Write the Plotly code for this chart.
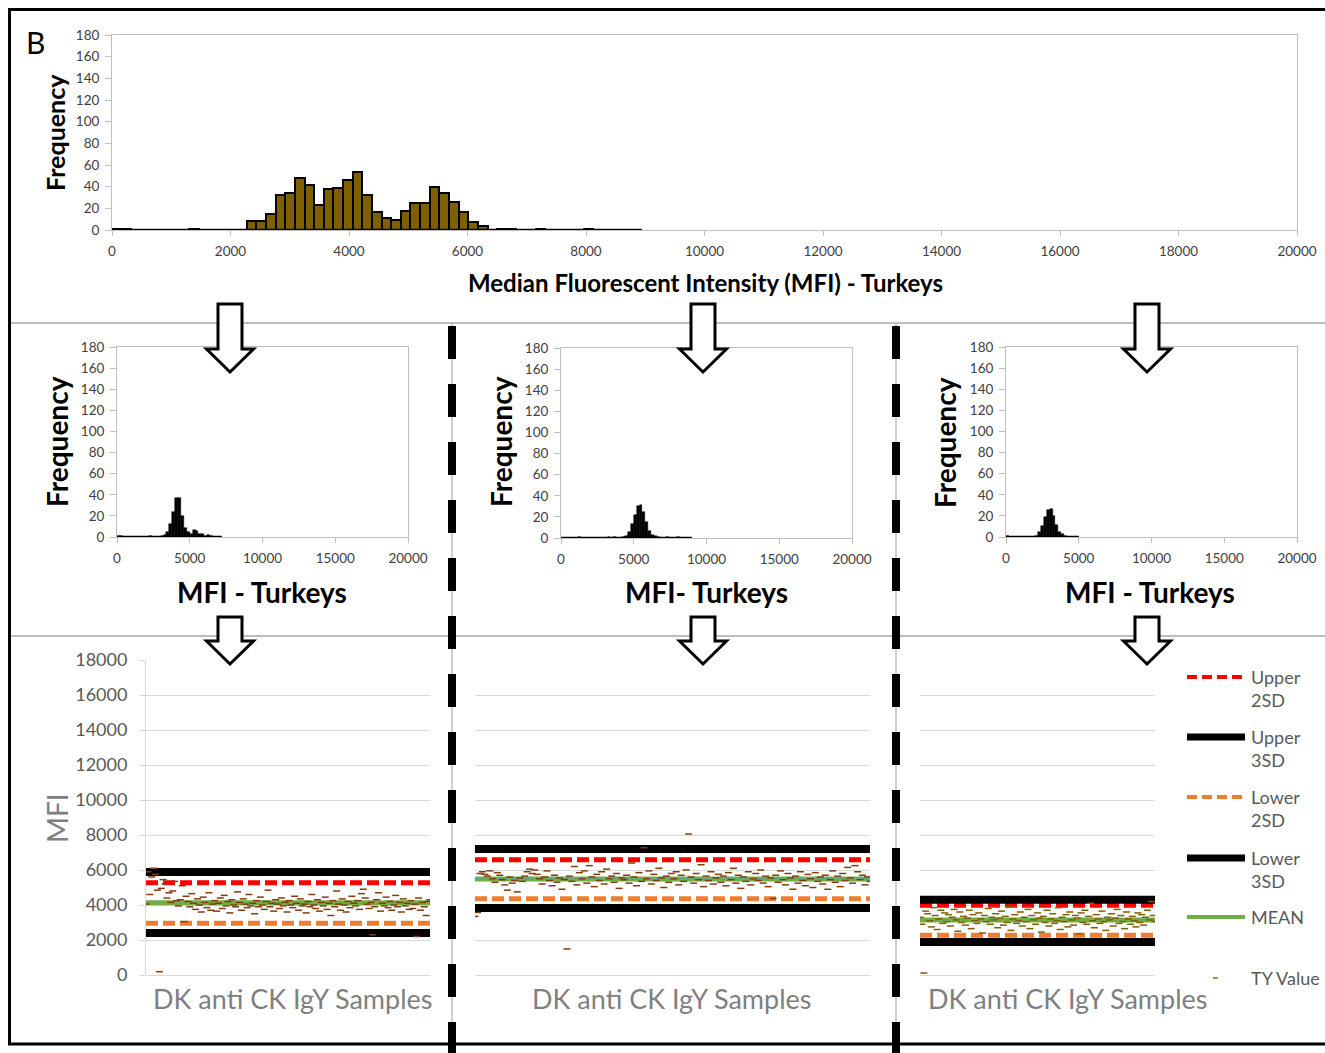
import plotly.graph_objects as go

W, H = 1325, 1053
FONT = "Lato"

# ---------------- data ----------------
top_bin_width = 162.5
top_counts = [1, 1, 0, 0, 0, 0, 0, 0, 1, 0, 0, 0, 0, 0,
              8, 8, 15, 32, 34, 48, 42, 23, 38, 39, 46, 54, 32, 17, 11, 9, 18, 25, 25, 40, 34, 26, 17, 7, 4,
              0, 1, 1, 0, 0, 1, 0, 0, 0, 0, 1, 0, 0, 0, 0, 0]

small_bin_width = 200
small1_counts = [1, 1, 0, 0, 0, 0, 0, 0, 0, 0, 0, 1, 0, 0, 0, 1, 2, 5, 12, 24, 37, 37, 20, 9, 5, 3, 7, 6, 3, 3,
                 1, 2, 1, 0, 0, 0]
small2_counts = [0, 0, 0, 0, 0, 0, 1, 0, 0, 0, 0, 0, 0, 0, 0, 0, 1, 0, 1, 0,
                 0, 1, 2, 6, 13, 22, 30, 31, 25, 15, 7, 3, 2, 1, 0, 0, 1, 0, 0, 0, 1, 0, 0, 0, 0]
small3_counts = [1, 0, 0, 0, 0, 0, 0, 0, 0, 0, 1, 5, 10, 19, 26, 27, 20, 11, 5, 3, 1, 0, 0, 0, 0]

ty1 = [4050, 5900, 4600, 5600, 6100, 5750, 4850, 190, 4950, 5450, 5200, 4400, 4700, 4150, 4800, 5350, 4250, 3950, 4300, 5100,
       3050, 4500, 4200, 3900, 4650, 4100, 3750, 4350, 4000, 3600, 4450, 4150, 3850, 4700, 3700, 4050, 4250, 3650, 4100, 4400,
       3800, 4550, 3950, 4200, 3550, 4300, 4000, 3900, 4750, 4150, 3700, 4350, 4050, 3850, 4600, 3950, 4100, 3500, 4250, 3900,
       4450, 4000, 3750, 4200, 4850, 3900, 4100, 3650, 4300, 4050, 3800, 4400, 3950, 4150, 3600, 4250, 4000, 3850, 4500, 4100,
       3700, 4350, 3950, 4050, 3550, 4200, 3900, 4600, 4000, 3800, 4300, 3650, 4150, 3950, 4450, 3750, 4100, 3400, 4250, 3900,
       4800, 4050, 3700, 4350, 4000, 3600, 4200, 3850, 4500, 4100, 3950, 4250, 3750, 4650, 4900, 4400, 4050, 3800, 4150, 2300,
       3900, 4300, 4700, 3650, 4100, 3950, 4450, 3850, 4200, 3700, 4000, 4550, 3900, 4150, 3600, 4350, 3950, 4100, 3750, 4250,
       3800, 4050, 2200, 4400, 3700, 4150, 3900, 3400, 4200, 4300]
ty2 = [3350, 3570, 5800, 5900, 5750, 5650, 5950, 5500, 5300, 5850, 5700, 5450, 5150, 4850, 5600, 5250, 5400, 4750, 5550, 5350,
       5650, 5900, 6050, 5800, 6000, 5750, 5500, 5200, 5600, 5950, 5400, 5100, 5700, 5300, 5550, 4900, 5450, 1490, 5650, 5350,
       6200, 5150, 5850, 5500, 5950, 5250, 6250, 5600, 5050, 5750, 5400, 5900, 5200, 6050, 5500, 5650, 5300, 5800, 4950, 5550,
       5450, 5700, 5250, 6400, 5600, 5100, 5850, 5350, 7270, 5500, 5950, 5200, 5750, 5400, 6100, 5550, 5000, 5650, 5300, 5800,
       5500, 5900, 5150, 5700, 5350, 6000, 8060, 5600, 5250, 5800, 5450, 6300, 5050, 5650, 5400, 5900, 5200, 5550, 5750, 5300,
       5650, 5100, 5850, 5450, 6100, 5250, 5700, 4950, 5600, 5350, 5900, 5150, 5500, 5800, 5400, 6000, 5250, 5650, 5050, 5550,
       4370, 5700, 5300, 5950, 5450, 5150, 5800, 5550, 4900, 5650, 5250, 5900, 5400, 5100, 5750, 5500, 5000, 5850, 5350, 5600,
       5200, 5700, 4900, 5450, 5950, 5300, 5650, 5050, 5800, 5400, 6150, 5550, 5250, 6250, 5900, 5450, 5700, 5150, 5600, 5350]
ty3 = [3300, 2900, 110, 3650, 3500, 3100, 2750, 3850, 3400, 2600, 3200, 3700, 2950, 3550, 3050, 3450, 2800, 3300, 3750, 3150,
       2500, 3600, 3000, 3350, 2850, 3250, 3700, 2650, 3450, 3100, 2950, 3550, 3200, 2400, 3400, 3050, 3800, 2900, 3300, 3150,
       3500, 2700, 3250, 3650, 2850, 3350, 3000, 3900, 2550, 3200, 3450, 2950, 3100, 3600, 2800, 3300, 3050, 3750, 2650, 3400,
       3150, 2900, 3550, 3250, 2450, 3350, 3000, 3700, 2800, 3200, 3500, 2950, 3100, 3850, 2600, 3300, 3050, 3450, 2750, 3600,
       3150, 2850, 3400, 3250, 2350, 3550, 3000, 3700, 2900, 3350, 4100, 3100, 2700, 3450, 3200, 2950, 3650, 3050, 2550, 3300,
       3150, 3500, 2800, 3250, 3750, 2950, 3400, 3050, 2650, 3600, 3200, 2900, 3350, 3100, 2750, 3550, 3000, 3450, 2850, 3300,
       3700, 3150, 4200, 3400, 3050]

# limits per panel: upper 2SD, upper 3SD, lower 2SD, lower 3SD, mean
upper2 = [5270, 6590, 3990]
upper3 = [5880, 7200, 4300]
lower2 = [2960, 4360, 2270]
lower3 = [2400, 3830, 1890]
means = [4130, 5490, 3140]

top_xticks = [0, 2000, 4000, 6000, 8000, 10000, 12000, 14000, 16000, 18000, 20000]
small_xticks = [0, 5000, 10000, 15000, 20000]
freq_ticks = [0, 20, 40, 60, 80, 100, 120, 140, 160, 180]
mfi_ticks = [0, 2000, 4000, 6000, 8000, 10000, 12000, 14000, 16000, 18000]

legend_labels = ["Upper<br>2SD", "Upper<br>3SD", "Lower<br>2SD", "Lower<br>3SD", "MEAN", "TY Value"]


# ---------------- helpers ----------------
def fx(p):
    return p / W


def fy(p):
    return 1 - p / H


RED, ORANGE, GREEN, BLUE = "#FF0000", "#ED7D31", "#70AD47", "#5B9BD5"
GRAYTXT = "#595959"
AXGRAY = "#bfbfbf"
GRID = "#d9d9d9"

fig = go.Figure()

# ---- top histogram ----
fig.add_trace(go.Scatter(x=[0, len(top_counts) * top_bin_width], y=[0, 0], mode="lines",
                         line=dict(color="black", width=2.5), xaxis="x", yaxis="y", hoverinfo="skip"))
fig.add_trace(go.Bar(x=[(i + 0.5) * top_bin_width for i in range(len(top_counts))], y=top_counts,
                     width=top_bin_width, marker=dict(color="#7F6000", line=dict(color="black", width=2)),
                     xaxis="x", yaxis="y"))

# ---- small histograms ----
for k, counts in enumerate([small1_counts, small2_counts, small3_counts]):
    xa = "x%d" % (k + 2)
    ya = "y%d" % (k + 2)
    fig.add_trace(go.Scatter(x=[0, len(counts) * small_bin_width], y=[0, 0], mode="lines",
                             line=dict(color="black", width=2.5), xaxis=xa, yaxis=ya, hoverinfo="skip"))
    fig.add_trace(go.Bar(x=[(i + 0.5) * small_bin_width for i in range(len(counts))], y=counts,
                         width=small_bin_width, marker=dict(color="black", line=dict(color="black", width=0.5)),
                         xaxis=xa, yaxis=ya))

# ---- bottom control charts ----
ty_colors = ["#843C0C", "#843C0C", "#7F6000"]
for k, vals in enumerate([ty1, ty2, ty3]):
    xa = "x%d" % (k + 5)
    ya = "y%d" % (k + 5)
    n = len(vals)
    xs = [1, n]
    fig.add_trace(go.Scatter(x=xs, y=[upper2[k]] * 2, mode="lines",
                             line=dict(color=RED, width=5, dash="12px,5px"), xaxis=xa, yaxis=ya))
    fig.add_trace(go.Scatter(x=xs, y=[upper3[k]] * 2, mode="lines",
                             line=dict(color="black", width=8), xaxis=xa, yaxis=ya))
    fig.add_trace(go.Scatter(x=xs, y=[lower2[k]] * 2, mode="lines",
                             line=dict(color=ORANGE, width=5, dash="12px,5px"), xaxis=xa, yaxis=ya))
    fig.add_trace(go.Scatter(x=xs, y=[lower3[k]] * 2, mode="lines",
                             line=dict(color="black", width=8), xaxis=xa, yaxis=ya))
    fig.add_trace(go.Scatter(x=xs, y=[means[k]] * 2, mode="lines",
                             line=dict(color=GREEN, width=5), xaxis=xa, yaxis=ya))
    if k == 1:
        fig.add_trace(go.Scatter(x=xs, y=[means[k]] * 2, mode="lines",
                                 line=dict(color=BLUE, width=2, dash="3px,3px"), xaxis=xa, yaxis=ya))
    fig.add_trace(go.Scatter(x=list(range(1, n + 1)), y=vals, mode="markers",
                             marker=dict(symbol="line-ew", size=5, line=dict(color=ty_colors[k], width=1.5)),
                             xaxis=xa, yaxis=ya))

# ---------------- axes ----------------
tickfont_small = dict(family=FONT, size=13.5, color="#404040")
layout_axes = {}


def hist_axes(idx, box, xticks, xmax):
    x0, x1, y0, y1 = box
    sx = "" if idx == 1 else str(idx)
    layout_axes["xaxis" + sx] = dict(domain=[fx(x0), fx(x1)], range=[0, xmax], anchor="y" + sx,
                                     tickvals=xticks, tickformat="d", ticks="outside", ticklen=5, tickcolor=AXGRAY,
                                     showline=True, linecolor=AXGRAY, linewidth=1, mirror=True,
                                     showgrid=False, zeroline=False, tickfont=tickfont_small,
                                     ticklabelstandoff=4, automargin=False)
    layout_axes["yaxis" + sx] = dict(domain=[fy(y1), fy(y0)], range=[0, 180], anchor="x" + sx,
                                     tickvals=freq_ticks, ticks="outside", ticklen=6, tickcolor=AXGRAY,
                                     showline=True, linecolor=AXGRAY, linewidth=1, mirror=True,
                                     showgrid=False, zeroline=False, tickfont=tickfont_small,
                                     ticklabelstandoff=3, automargin=False)


hist_axes(1, (112, 1297, 35, 230), top_xticks, 20000)
hist_axes(2, (117, 408, 347, 537), small_xticks, 20000)
hist_axes(3, (561, 852, 348, 538), small_xticks, 20000)
hist_axes(4, (1006, 1297, 347, 537), small_xticks, 20000)

bottom_boxes = [(146, 430), (475, 870), (920, 1155)]
for k, (x0, x1) in enumerate(bottom_boxes):
    idx = k + 5
    n = len([ty1, ty2, ty3][k])
    layout_axes["xaxis%d" % idx] = dict(domain=[fx(x0), fx(x1)], range=[1, n], anchor="y%d" % idx,
                                        showticklabels=False, ticks="", showgrid=False, zeroline=False,
                                        showline=False, automargin=False)
    layout_axes["yaxis%d" % idx] = dict(domain=[fy(975), fy(660)], range=[0, 18000], anchor="x%d" % idx,
                                        tickvals=mfi_ticks, tickformat="d", showgrid=True, gridcolor=GRID,
                                        gridwidth=1, zeroline=True, zerolinecolor=GRID, zerolinewidth=1,
                                        showline=(k == 0), linecolor=GRID, linewidth=1,
                                        ticks="outside" if k == 0 else "", ticklen=6, tickcolor=GRID,
                                        showticklabels=(k == 0),
                                        tickfont=dict(family=FONT, size=18, color=GRAYTXT),
                                        ticklabelstandoff=8, automargin=False)


# ---------------- annotations ----------------
def ann(text, x, y, size, color="black", bold=False, angle=0, xanchor="center", yanchor="middle"):
    return dict(text=("<b>%s</b>" % text) if bold else text, x=fx(x), y=fy(y), xref="paper", yref="paper",
                showarrow=False, font=dict(family=FONT, size=size, color=color), textangle=angle,
                xanchor=xanchor, yanchor=yanchor, align="left" if xanchor == "left" else "center")


annotations = [
    ann("B", 35, 42, 30),
    ann("Frequency", 55, 133, 25, bold=True, angle=-90),
    ann("Median Fluorescent Intensity (MFI) - Turkeys", 705, 282, 24, bold=True),
    ann("Frequency", 57, 442, 28, bold=True, angle=-90),
    ann("Frequency", 501, 442, 28, bold=True, angle=-90),
    ann("Frequency", 945, 442, 28, bold=True, angle=-90),
    ann("MFI - Turkeys", 262, 592, 28, bold=True),
    ann("MFI- Turkeys", 707, 592, 28, bold=True),
    ann("MFI - Turkeys", 1150, 592, 28, bold=True),
    ann("MFI", 57, 818, 28, color="#7f7f7f", angle=-90),
    ann("DK anti CK IgY Samples", 293, 998, 27, color="#7f7f7f"),
    ann("DK anti CK IgY Samples", 672, 998, 27, color="#7f7f7f"),
    ann("DK anti CK IgY Samples", 1068, 998, 27, color="#7f7f7f"),
]

# legend
leg_y = [677, 737, 797, 858, 917, 978]
leg_styles = [dict(color=RED, width=4, dash="10px,5px"), dict(color="black", width=7),
              dict(color=ORANGE, width=4, dash="10px,5px"), dict(color="black", width=7),
              dict(color=GREEN, width=4)]
shapes = []
for i, lab in enumerate(legend_labels):
    y = leg_y[i]
    if i < 5:
        shapes.append(dict(type="line", xref="paper", yref="paper", x0=fx(1187), x1=fx(1245),
                           y0=fy(y), y1=fy(y), line=leg_styles[i]))
    else:
        shapes.append(dict(type="line", xref="paper", yref="paper", x0=fx(1213), x1=fx(1218),
                           y0=fy(y), y1=fy(y), line=dict(color="#9C6500", width=1.5)))
    if "<br>" in lab:
        annotations.append(ann(lab, 1249, y + 11.5, 18, color=GRAYTXT, xanchor="left"))
    else:
        annotations.append(ann(lab, 1249, y, 18, color=GRAYTXT, xanchor="left"))

# frame & dividers
shapes += [
    dict(type="line", xref="paper", yref="paper", x0=fx(9), x1=fx(1325), y0=fy(323), y1=fy(323),
         line=dict(color="#a6a6a6", width=1.5)),
    dict(type="line", xref="paper", yref="paper", x0=fx(9), x1=fx(1325), y0=fy(636), y1=fy(636),
         line=dict(color="#a6a6a6", width=1.5)),
]
for xv in (452, 896):
    shapes.append(dict(type="line", xref="paper", yref="paper", x0=fx(xv), x1=fx(xv), y0=fy(323), y1=fy(1053),
                       line=dict(color="#bfbfbf", width=1.5)))
    shapes.append(dict(type="line", xref="paper", yref="paper", x0=fx(xv), x1=fx(xv), y0=fy(326), y1=fy(1060),
                       line=dict(color="black", width=8, dash="33px,25px")))
shapes.append(dict(type="rect", xref="paper", yref="paper", x0=fx(9.5), x1=fx(1340), y0=fy(1044), y1=fy(9.5),
                   line=dict(color="black", width=3), fillcolor="rgba(0,0,0,0)"))


def arrow_path(cx, top, base, tip, sw=12, hw=23.5):
    pts = [(cx - sw, top), (cx + sw, top), (cx + sw, base), (cx + hw, base), (cx, tip),
           (cx - hw, base), (cx - sw, base)]
    return "M " + " L ".join("%.5f,%.5f" % (fx(a), fy(b)) for a, b in pts) + " Z"


for cx in (230, 703, 1147):
    for (t, b, tp) in ((304, 349, 372), (617, 641, 664)):
        shapes.append(dict(type="path", xref="paper", yref="paper", path=arrow_path(cx, t, b, tp),
                           fillcolor="white", line=dict(color="black", width=3)))

fig.update_layout(
    width=W, height=H, margin=dict(l=0, r=0, t=0, b=0, pad=0, autoexpand=False),
    paper_bgcolor="white", plot_bgcolor="white", showlegend=False,
    bargap=0, font=dict(family=FONT),
    annotations=annotations, shapes=shapes, **layout_axes,
)

fig.write_html("out.html", config={"displayModeBar": False},
               post_script="document.body.style.margin='0';document.body.style.overflow='hidden';")
